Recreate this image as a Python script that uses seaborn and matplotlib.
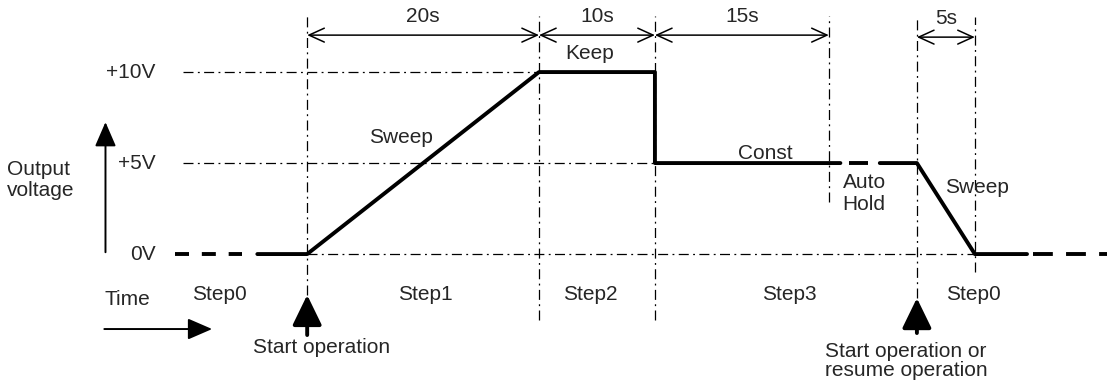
import numpy as np
import pandas as pd
import matplotlib
matplotlib.use("Agg")
import matplotlib.pyplot as plt
import seaborn as sns

sns.set_style("white")
plt.rcParams["font.family"] = ["Liberation Sans", "DejaVu Sans"]

# waveform (time in s, output in V)
solid_t1 = [-4.3, 0, 20, 30, 30, 46.0]
solid_v1 = [0, 0, 10, 10, 5, 5]
solid_t2 = [49.4, 52.6, 57.6, 62.1]
solid_v2 = [5, 5, 0, 0]
hold_dash_t = [46.7, 48.4]
hold_dash_v = [5, 5]
lead_dash_t = [-11.4, -5.6]
tail_dash_t = [62.6, 69.5]

# step boundaries and durations
bound_t = [0, 20, 30, 45, 52.6, 57.6]
bound_top = [13.1, 13.1, 13.1, 13.1, 13.0, 13.0]
bound_bot = [-2.25, -3.65, -3.65, 2.86, -2.42, -1.0]
spans = [(0, 20, "20s"), (20, 30, "10s"), (30, 45, "15s"), (52.6, 57.6, "5s")]
step_names = ["Step0", "Step1", "Step2", "Step3", "Step0"]
step_pos = [-7.6, 10.2, 24.4, 41.6, 57.5]
levels = [10, 5, 0]
level_labels = ["+10V", "+5V", "0V"]

fig = plt.figure(figsize=(11.07, 3.88), dpi=100)
ax = fig.add_axes([0, 0, 1, 1])
ax.set_xlim(-26.5, 69.0)
ax.set_ylim(-7.36, 13.96)
ax.axis("off")

dashdot = (0, (8, 3.5, 1.5, 3.5))
guide = dict(color="black", lw=0.9, linestyle=dashdot)

# guides
ax.plot([-10.7, 20], [10, 10], **guide)
ax.plot([-10.7, 30], [5, 5], **guide)
ax.plot([0, 57.6], [0, 0], **guide)
for t, top, bot in zip(bound_t, bound_top, bound_bot):
    ax.plot([t, t], [bot, top], **guide)

# waveform
lw = 2.8
w1 = pd.DataFrame({"t": solid_t1, "v": solid_v1})
w2 = pd.DataFrame({"t": solid_t2, "v": solid_v2})
sns.lineplot(data=w1, x="t", y="v", ax=ax, color="black", lw=lw, sort=False, estimator=None)
sns.lineplot(data=w2, x="t", y="v", ax=ax, color="black", lw=lw, sort=False, estimator=None)
ax.plot(hold_dash_t, hold_dash_v, color="black", lw=lw, solid_capstyle="butt")
ax.plot(lead_dash_t, [0, 0], color="black", lw=lw, linestyle=(0, (3.6, 3.3)))
ax.plot(tail_dash_t, [0, 0], color="black", lw=lw, linestyle=(0, (5.1, 3.4)))

fs = 15

# duration arrows
for a, b, lab in spans:
    y = 11.92 if lab == "5s" else 12.03
    ax.annotate("", xy=(a, y), xytext=(b, y),
                arrowprops=dict(arrowstyle="<->,head_length=1.1,head_width=0.5", lw=1.1, color="black",
                                shrinkA=0, shrinkB=0))
    ax.text((a + b) / 2, y + 1.05, lab, ha="center", va="center", fontsize=fs)

for v, lab in zip(levels, level_labels):
    ax.text(-13.1, v, lab, ha="right", va="center", fontsize=fs)
for p, lab in zip(step_pos, step_names):
    ax.text(p, -2.2, lab, ha="center", va="center", fontsize=fs)

ax.text(24.4, 11.0, "Keep", ha="center", va="center", fontsize=fs)
ax.text(8.1, 6.43, "Sweep", ha="center", va="center", fontsize=fs)
ax.text(39.5, 5.5, "Const", ha="center", va="center", fontsize=fs)
ax.text(46.2, 3.35, "Auto\nHold", ha="left", va="center", fontsize=fs, linespacing=1.2)
ax.text(55.0, 3.68, "Sweep", ha="left", va="center", fontsize=fs)
ax.text(-25.9, 4.07, "Output\nvoltage", ha="left", va="center", fontsize=fs, linespacing=1.1)
ax.text(-17.5, -2.5, "Time", ha="left", va="center", fontsize=fs)

arrow = dict(arrowstyle="-|>,head_length=1.5,head_width=0.65", lw=1.4, color="black",
             shrinkA=0, shrinkB=0)
ax.annotate("", xy=(-17.4, 7.25), xytext=(-17.4, 0.1), arrowprops=arrow)
ax.annotate("", xy=(-8.2, -4.12), xytext=(-17.5, -4.12), arrowprops=arrow)
big = dict(arrow, lw=2.8, arrowstyle="-|>,head_length=1.85,head_width=0.9")
ax.annotate("", xy=(0, -2.25), xytext=(0, -4.45), arrowprops=big)
ax.annotate("", xy=(52.6, -2.42), xytext=(52.6, -4.34), arrowprops=big)

ax.text(1.25, -5.16, "Start operation", ha="center", va="center", fontsize=fs)
ax.text(44.66, -5.86, "Start operation or\nresume operation", ha="left", va="center", fontsize=fs,
        linespacing=0.98)

fig.savefig("out.png", dpi=100, facecolor="white")
